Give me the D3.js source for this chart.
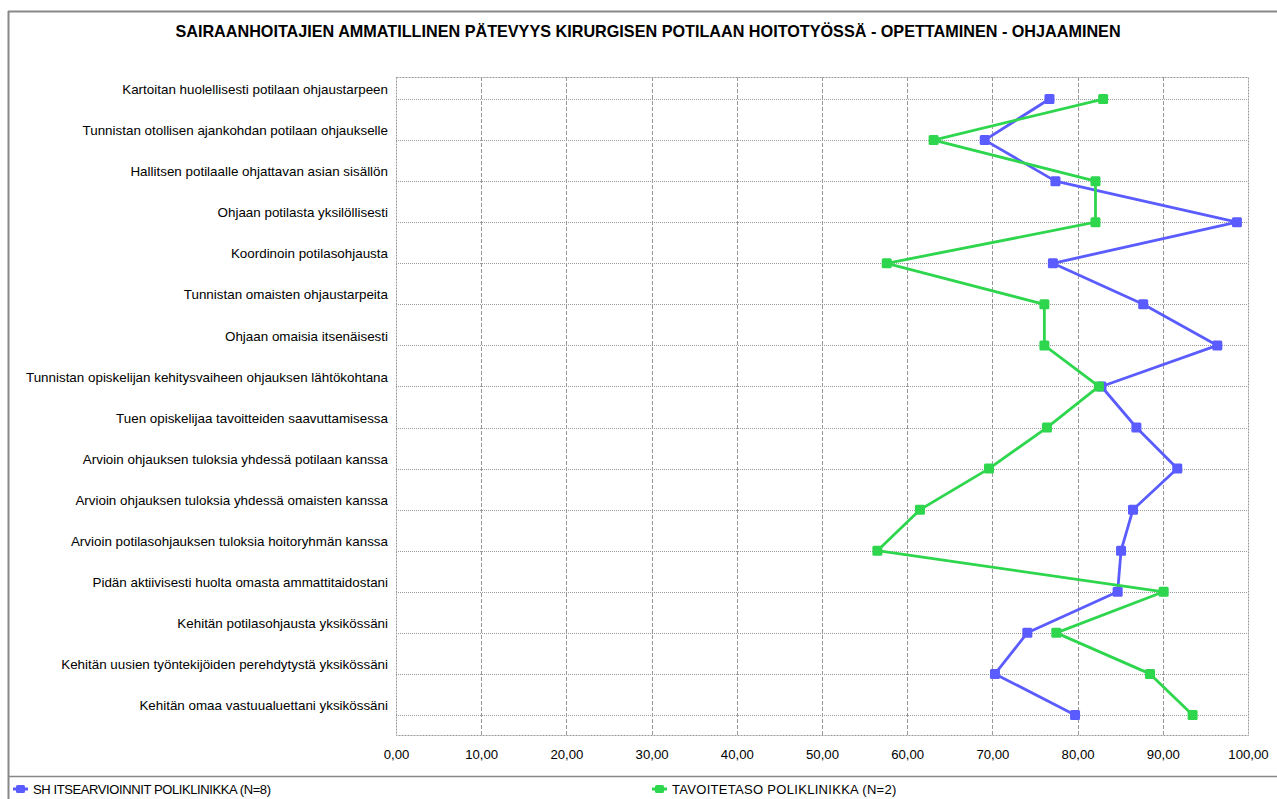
<!DOCTYPE html>
<html>
<head>
<meta charset="utf-8">
<script src="https://cdn.jsdelivr.net/npm/d3@7"></script>
<style>
  html, body { margin: 0; padding: 0; background: #fff; }
  svg { display: block; font-family: "Liberation Sans", Arial, sans-serif; }
</style>
</head>
<body>
<svg id="chart" width="1277" height="799"></svg>
<script>
const title = "SAIRAANHOITAJIEN AMMATILLINEN PÄTEVYYS KIRURGISEN POTILAAN HOITOTYÖSSÄ - OPETTAMINEN - OHJAAMINEN";

const categories = [
  "Kartoitan huolellisesti potilaan ohjaustarpeen",
  "Tunnistan otollisen ajankohdan potilaan ohjaukselle",
  "Hallitsen potilaalle ohjattavan asian sisällön",
  "Ohjaan potilasta yksilöllisesti",
  "Koordinoin potilasohjausta",
  "Tunnistan omaisten ohjaustarpeita",
  "Ohjaan omaisia itsenäisesti",
  "Tunnistan opiskelijan kehitysvaiheen ohjauksen lähtökohtana",
  "Tuen opiskelijaa tavoitteiden saavuttamisessa",
  "Arvioin ohjauksen tuloksia yhdessä potilaan kanssa",
  "Arvioin ohjauksen tuloksia yhdessä omaisten kanssa",
  "Arvioin potilasohjauksen tuloksia hoitoryhmän kanssa",
  "Pidän aktiivisesti huolta omasta ammattitaidostani",
  "Kehitän potilasohjausta yksikössäni",
  "Kehitän uusien työntekijöiden perehdytystä yksikössäni",
  "Kehitän omaa vastuualuettani yksikössäni"
];

const seriesNames = ["SH ITSEARVIOINNIT POLIKLINIKKA (N=8)", "TAVOITETASO POLIKLINIKKA (N=2)"];
const selfAssessment = [76.7, 69.1, 77.4, 98.7, 77.1, 87.7, 96.4, 82.8, 86.9, 91.7, 86.5, 85.1, 84.7, 74.1, 70.3, 79.7];
const targetLevel    = [83.0, 63.1, 82.1, 82.1, 57.6, 76.1, 76.1, 82.5, 76.4, 69.6, 61.5, 56.5, 90.1, 77.5, 88.5, 93.5];
const xTicks = [0, 10, 20, 30, 40, 50, 60, 70, 80, 90, 100];
const seriesColors = ["#5a5cff", "#2ed64e"];

const svg = d3.select("#chart");
const W = 1277, H = 799;
const plot = { left: 396, right: 1248, top: 77, bottom: 735 };

// outer frame lines
svg.append("line").attr("x1", 8).attr("x2", W).attr("y1", 11.5).attr("y2", 11.5)
  .attr("stroke", "#888").attr("stroke-width", 2);
svg.append("line").attr("x1", 8.5).attr("x2", 8.5).attr("y1", 11).attr("y2", H)
  .attr("stroke", "#888").attr("stroke-width", 2);
svg.append("line").attr("x1", 8).attr("x2", W).attr("y1", 776.5).attr("y2", 776.5)
  .attr("stroke", "#888").attr("stroke-width", 1.5);

// title
svg.append("text").attr("x", 648).attr("y", 37).attr("text-anchor", "middle")
  .attr("font-weight", "bold").attr("font-size", 16.2).attr("fill", "#000")
  .text(title);

const x = d3.scaleLinear().domain([0, 100]).range([plot.left, plot.right]);
const y = d3.scalePoint().domain(categories).range([plot.top + 1.5, plot.bottom + 0.5]).padding(0.5);

const locale = d3.formatLocale({ decimal: ",", thousands: " ", grouping: [3], currency: ["", "€"] });
const fmt = locale.format(".2f");

// vertical grid (dashed)
svg.append("g").selectAll("line").data(xTicks.slice(1, -1)).join("line")
  .attr("x1", d => Math.round(x(d)) + 0.5).attr("x2", d => Math.round(x(d)) + 0.5)
  .attr("y1", plot.top).attr("y2", plot.bottom)
  .attr("stroke", "#999").attr("stroke-width", 1).attr("stroke-dasharray", "4,2");

// horizontal grid (dotted)
svg.append("g").selectAll("line").data(categories).join("line")
  .attr("x1", plot.left).attr("x2", plot.right)
  .attr("y1", d => Math.round(y(d)) + 0.5).attr("y2", d => Math.round(y(d)) + 0.5)
  .attr("stroke", "#999").attr("stroke-width", 1).attr("stroke-dasharray", "1,1");

// plot frame (dotted)
svg.append("rect").attr("x", plot.left + 0.5).attr("y", plot.top + 0.5)
  .attr("width", plot.right - plot.left).attr("height", plot.bottom - plot.top)
  .attr("fill", "none").attr("stroke", "#999").attr("stroke-dasharray", "2,1");

// x axis labels
const xAxis = d3.axisBottom(x).tickValues(xTicks).tickFormat(fmt).tickSize(0).tickPadding(0);
const gx = svg.append("g").attr("transform", `translate(0,${plot.bottom + 15})`).call(xAxis);
gx.select(".domain").remove();
gx.selectAll("text").attr("font-size", 13.2).attr("fill", "#000")
  .attr("font-family", "Liberation Sans, Arial, sans-serif").attr("dy", "0.71em");

// y category labels, sitting just above their grid line
const yAxis = d3.axisLeft(y).tickSize(0).tickPadding(0);
const gy = svg.append("g").attr("transform", `translate(${plot.left - 8},0)`).call(yAxis);
gy.select(".domain").remove();
gy.selectAll("text").attr("font-size", 13.4).attr("fill", "#000")
  .attr("font-family", "Liberation Sans, Arial, sans-serif").attr("dy", "-0.4em");

// series lines and markers
const series = [selfAssessment, targetLevel];
const line = d3.line().x(d => x(d.v)).y(d => y(d.c));
series.forEach((vals, si) => {
  const pts = vals.map((v, i) => ({ v, c: categories[i] }));
  svg.append("path").datum(pts).attr("d", line)
    .attr("fill", "none").attr("stroke", seriesColors[si]).attr("stroke-width", 2.8)
    .attr("stroke-linejoin", "round");
  svg.append("g").selectAll("rect").data(pts).join("rect")
    .attr("x", d => x(d.v) - 5).attr("y", d => y(d.c) - 5)
    .attr("width", 10).attr("height", 10).attr("rx", 1.5)
    .attr("fill", seriesColors[si]);
});

// legend
const legendX = [13, 652];
const legendSpacing = [-0.4, 0.3];
seriesNames.forEach((name, i) => {
  const g = svg.append("g").attr("transform", `translate(${legendX[i]},789)`);
  g.append("line").attr("x1", 0).attr("x2", 15).attr("y1", 0).attr("y2", 0)
    .attr("stroke", seriesColors[i]).attr("stroke-width", 3);
  g.append("rect").attr("x", 3).attr("y", -4).attr("width", 9).attr("height", 8)
    .attr("rx", 1.5).attr("fill", seriesColors[i]);
  g.append("text").attr("x", 20).attr("y", 5).attr("font-size", 13)
    .attr("letter-spacing", legendSpacing[i]).attr("fill", "#000").text(name);
});
</script>
</body>
</html>
